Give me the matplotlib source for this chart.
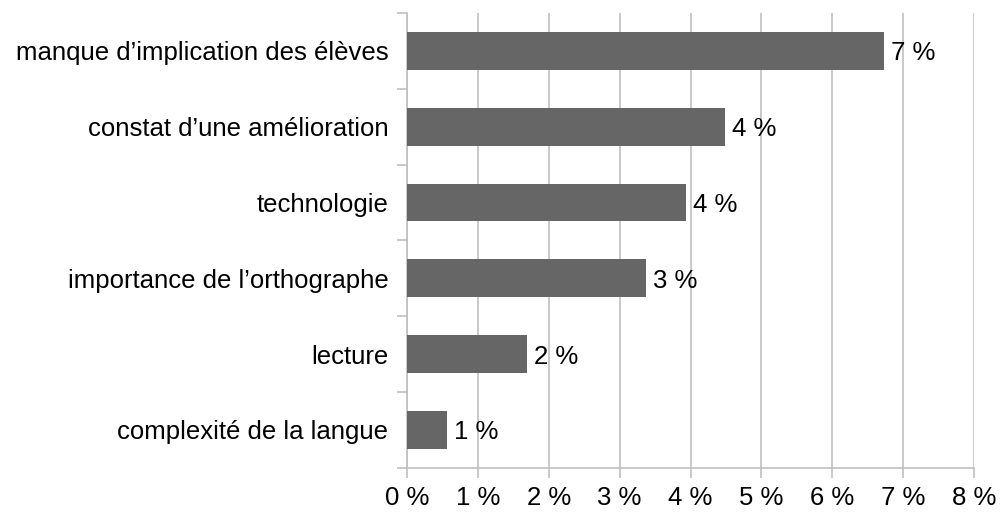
import matplotlib
matplotlib.use("Agg")
import matplotlib.pyplot as plt
import numpy as np

categories = [
    "manque d’implication des élèves",
    "constat d’une amélioration",
    "technologie",
    "importance de l’orthographe",
    "lecture",
    "complexité de la langue",
]
values = [6.73, 4.49, 3.93, 3.37, 1.69, 0.56]
value_labels = ["7 %", "4 %", "4 %", "3 %", "2 %", "1 %"]
x_ticks = [0, 1, 2, 3, 4, 5, 6, 7, 8]

plt.rcParams['font.family'] = ['Liberation Sans', 'DejaVu Sans']
grid_col = "#c0c0c0"
fs = 18.5

fig = plt.figure(figsize=(10, 5.12), dpi=100)
ax = fig.add_axes([0.407, 0.0865, 0.567, 0.888])

y = np.arange(len(categories))[::-1]
ax.barh(y, values, height=0.5, color="#666666", zorder=3)
for yi, v, lab in zip(y, values, value_labels):
    ax.text(v + 0.1, yi, lab, va="center_baseline", ha="left", fontsize=fs, zorder=4)

ax.set_xlim(0, 8)
ax.set_ylim(-0.5, len(categories) - 0.5)
ax.set_xticks(x_ticks)
ax.set_xticklabels([f"{t} %" for t in x_ticks], fontsize=fs)
ax.set_yticks(y)
ax.set_yticklabels(categories, fontsize=fs, va="center_baseline")
ax.set_yticks(np.arange(-0.5, len(categories), 1), minor=True)
ax.tick_params(axis="y", which="major", length=0, pad=13.5)
ax.tick_params(axis="y", which="minor", length=7.5, color=grid_col, width=1.2)
ax.tick_params(axis="x", length=7.5, color=grid_col, width=1.2, pad=6)

ax.grid(axis="x", color=grid_col, linewidth=1.2, zorder=0)
for side in ["top", "right"]:
    ax.spines[side].set_visible(False)
for side in ["left", "bottom"]:
    ax.spines[side].set_color(grid_col)
    ax.spines[side].set_linewidth(1.2)

fig.savefig("out.png", dpi=100)
